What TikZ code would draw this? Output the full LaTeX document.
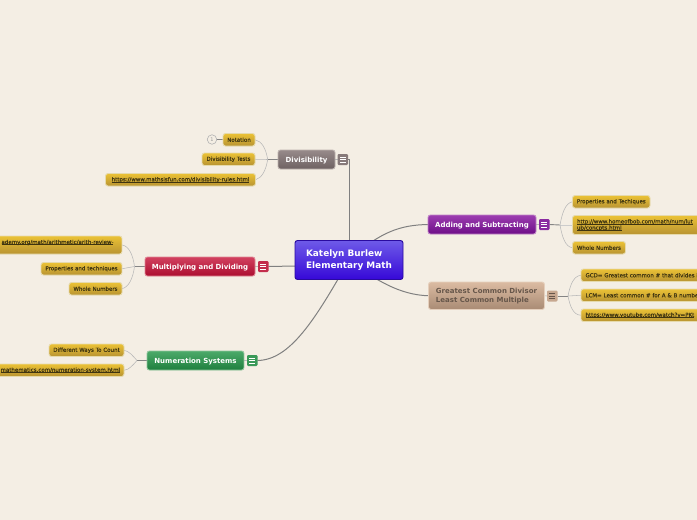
\documentclass[tikz,border=0pt]{standalone}
\usetikzlibrary{backgrounds}
\usepackage{fontspec}
\setmainfont{DejaVu Sans}
\newfontfamily\leaffont[FakeBold=0.2]{DejaVu Sans}
\definecolor{bg}{HTML}{F4EEE4}
\definecolor{ink}{HTML}{3E3410}
\definecolor{leafedge}{HTML}{E6DAAC}
\definecolor{leaftop}{HTML}{EBC235}
\definecolor{leafbot}{HTML}{B89332}
\definecolor{rootT}{HTML}{6E5AE8}
\definecolor{rootB}{HTML}{3608D8}
\definecolor{rootE}{HTML}{2A0AA0}
\definecolor{divT}{HTML}{978A8A}
\definecolor{divB}{HTML}{6E6262}
\definecolor{mulT}{HTML}{D2415F}
\definecolor{mulB}{HTML}{AC0E30}
\definecolor{numT}{HTML}{4CAA6A}
\definecolor{numB}{HTML}{1F7F3E}
\definecolor{addT}{HTML}{9C3DB0}
\definecolor{addB}{HTML}{6E0E88}
\definecolor{gcdT}{HTML}{DBBBA2}
\definecolor{gcdB}{HTML}{A98B74}
\definecolor{gcdI}{HTML}{66564A}
\tikzset{
  x=1pt,y=-1pt,
  box/.style={rounded corners=2.5pt,inner sep=0pt,anchor=north west,line width=.9pt},
  sz/.style n args={3}{minimum width=#1pt,minimum height=#2pt,text width=#1pt-#3pt,outer sep=0pt},
  szb/.style 2 args={minimum width=#1pt,minimum height=#2pt,outer sep=0pt},
  leaf/.style={box,draw=leafedge,top color=leaftop,bottom color=leafbot,text=ink,font=\leaffont\fontsize{5.5}{6.2}\selectfont},
  main/.style 2 args={box,draw=#1!60!bg,top color=#1,bottom color=#2,text=white,align=center,text height=5.2pt,text depth=0pt,font=\bfseries\fontsize{7}{9}\selectfont},
  tog/.style 2 args={rounded corners=1.2pt,inner sep=0pt,minimum width=10.5pt,minimum height=11pt,outer sep=0pt,fill=#1!60!#2,anchor=north west},
  togline/.style={line width=.55pt},
  branch/.style={draw=black!50,line width=1pt},
  twig/.style={draw=black!28,line width=.55pt},
  stem/.style={draw=black!48,line width=.9pt},
}
\newcommand{\lnk}[1]{\leavevmode\setbox0=\hbox{#1}\rlap{\rule[-.75pt]{\wd0}{.4pt}}\box0 }
\begin{document}
\begin{tikzpicture}
\useasboundingbox (0,0) rectangle (697,520);

% central node
\node[box,draw=rootE,top color=rootT,bottom color=rootB,text=white,font=\bfseries\fontsize{8.9}{11.2}\selectfont,align=left,szb={108}{39}] (root) at (295,240.5) {Katelyn Burlew\\Elementary Math};

% Divisibility
\node[main={divT}{divB},sz={57}{19}{4}] (dv) at (278,150) {Divisibility};
\node[tog={divT}{divB}] (dvt) at (337.5,154) {};
\node[leaf,align=center,sz={32}{12.5}{2}] (dv1) at (223,133.5) {Notation};
\node[leaf,align=center,sz={53}{12.5}{2}] (dv2) at (202,153) {Divisibility Tests};
\node[leaf,align=center,sz={150}{12.5}{2}] (dv3) at (105.5,173.5) {\lnk{https://www.mathsisfun.com/divisibility-rules.html}};
\node[circle,draw=black!30,line width=.6pt,inner sep=0pt,minimum size=9.5pt,text=black!40,font=\fontsize{5}{6}\selectfont,outer sep=0pt] (dvn) at (212,139.5) {1};
\coordinate (dvf) at (267.7,159.5);

% Multiplying
\node[main={mulT}{mulB},sz={110}{19}{4}] (ml) at (145,257) {Multiplying and Dividing};
\node[tog={mulT}{mulB}] (mlt) at (258,261) {};
\node[leaf,align=right,sz={140}{18}{17}] (ml1) at (-18,236) {\lnk{ademy.org/math/arithmetic/arith-review-}\\\mbox{}};
\node[leaf,align=center,sz={81}{12.5}{2}] (ml2) at (41,262.5) {Properties and techniques};
\node[leaf,align=center,sz={53}{12.5}{2}] (ml3) at (69,282.5) {Whole Numbers};
\coordinate (mlf) at (134.5,266.5);

% Numeration
\node[main={numT}{numB},sz={97}{19}{4}] (nm) at (147,351) {Numeration Systems};
\node[tog={numT}{numB}] (nmt) at (247,355) {};
\node[leaf,align=center,sz={75}{12.5}{2}] (nm1) at (49,344) {Different Ways To Count};
\node[leaf,align=right,sz={140}{12.5}{8}] (nm2) at (-16,364) {\lnk{mathematics.com/numeration-system.html}};
\coordinate (nmf) at (137,360.5);

% Adding
\node[main={addT}{addB},sz={108}{19}{4}] (ad) at (428,215) {Adding and Subtracting};
\node[tog={addT}{addB}] (adt) at (539,219) {};
\node[leaf,align=center,sz={77.5}{12.5}{2}] (ad1) at (572.5,195.5) {Properties and Techiques};
\node[leaf,align=left,sz={170}{19}{9}] (ad2) at (572.5,215.5) {\lnk{http://www.homeofbob.com/math/num/lut}\\\lnk{ub/concpts.html}};
\node[leaf,align=center,sz={53}{12.5}{2}] (ad3) at (572.5,241.5) {Whole Numbers};
\coordinate (adf) at (560,225);

% GCD
\node[box,draw=gcdT!60!bg,top color=gcdT,bottom color=gcdB,text=gcdI,font=\bfseries\fontsize{7}{9}\selectfont,align=left,szb={116}{27.5}] (gc) at (428.5,282) {Greatest Common Divisor\\Least Common Multiple};
\node[tog={gcdT}{gcdB}] (gct) at (547,290.5) {};
\node[leaf,align=left,sz={170}{12.5}{9}] (gc1) at (581,269) {GCD= Greatest common \# that divides i};
\node[leaf,align=left,sz={170}{12.5}{9}] (gc2) at (581,289) {LCM= Least common \# for A \& B numbe};
\node[leaf,align=left,sz={170}{12.5}{9}] (gc3) at (581,309) {\lnk{https://www.youtube.com/watch?v=PKt}};
\coordinate (gcf) at (568,296);

% toggle bars
\foreach \t/\c in {dvt/white,mlt/white,nmt/white,adt/white,gct/gcdI}{
  \foreach \dy in {-2.6,0,2.6}{
    \draw[togline,draw=\c] ([xshift=-3pt,yshift=\dy pt]\t.center) -- ([xshift=3pt,yshift=\dy pt]\t.center);
  }
}

\begin{scope}[on background layer]
\fill[bg] (0,0) rectangle (697,520);
% first level
\draw[branch] (dvt.east) -| (root.north);
\draw[branch] (mlt.east) -- ([yshift=-6pt]root.west);
\draw[branch] (nmt.east) .. controls (290,360) and (315,320) .. (root.center);
\draw[branch] (root.center) .. controls (380,232) and (400,225) .. (ad.west);
\draw[branch] (root.center) .. controls (375,280) and (400,295) .. (gc.west);
% node to toggle
\foreach \a/\b in {dv/dvt,ml/mlt,nm/nmt,ad/adt,gc/gct}{\draw[twig] (\a.east) -- (\b.west);}
% stems
\draw[stem] (dv.west) -- (dvf);
\draw[stem] (ml.west) -- (mlf);
\draw[stem] (nm.west) -- (nmf);
\draw[stem] (adt.east) -- (adf);
\draw[stem] (gct.east) -- (gcf);
% twigs
\draw[stem,line width=.7pt] (dvn) -- (dv1);
\draw[twig] (dvf) .. controls (266,149) and (262,141) .. (dv1.east);
\draw[twig] (dvf) -- (dv2.east);
\draw[twig] (dvf) .. controls (266,170) and (262,178) .. (dv3.east);
\draw[twig] (mlf) .. controls (133,255) and (129,246) .. (ml1.east);
\draw[twig] (mlf) -- (ml2.east);
\draw[twig] (mlf) .. controls (133,278) and (129,287) .. (ml3.east);
\draw[twig] (nmf) .. controls (133,356) and (129,351) .. (nm1.east);
\draw[twig] (nmf) .. controls (133,365) and (129,370) .. (nm2.east);
\draw[twig] (adf) .. controls (562,214) and (565,203) .. (ad1.west);
\draw[twig,line width=1pt,draw=black!20] (adf) -- (ad2.west);
\draw[twig] (adf) .. controls (562,236) and (565,247) .. (ad3.west);
\draw[twig] (gcf) .. controls (570,286) and (573,276) .. (gc1.west);
\draw[twig] (gcf) -- (gc2.west);
\draw[twig] (gcf) .. controls (570,306) and (573,315) .. (gc3.west);
\end{scope}
\end{tikzpicture}
\end{document}
